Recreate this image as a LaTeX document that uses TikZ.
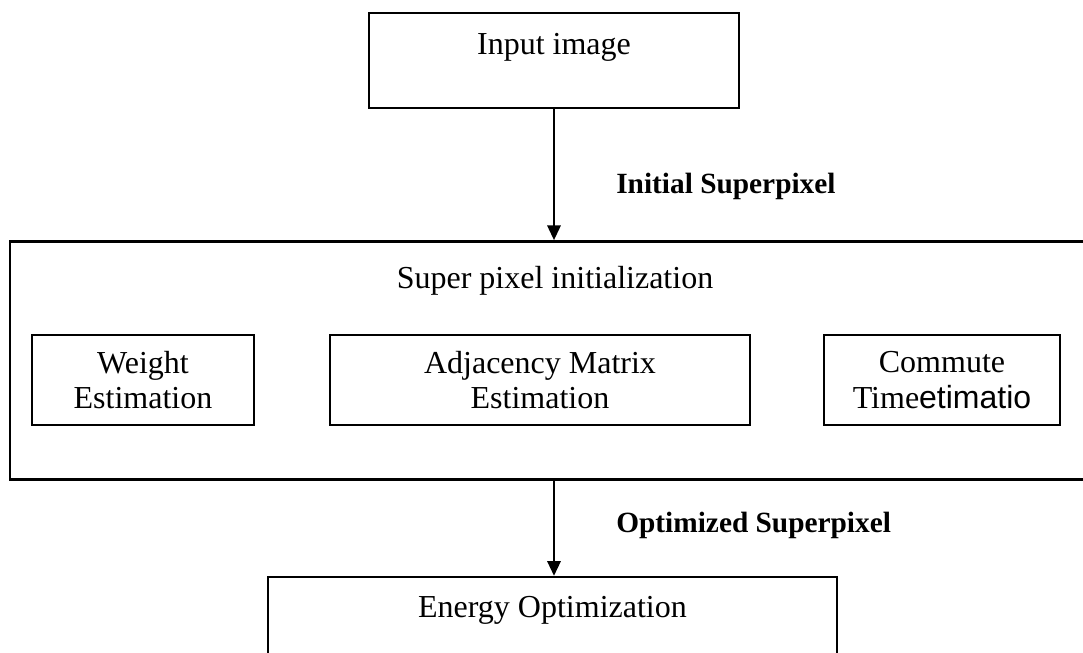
\documentclass[tikz,border=0pt]{standalone}
\usepackage{fontspec}
\setmainfont{Liberation Serif}
\setsansfont{Liberation Sans}
\usetikzlibrary{positioning,arrows.meta}

\begin{document}
\begin{tikzpicture}[x=0.375pt,y=-0.375pt,font=\fontsize{12}{13.2}\selectfont,
       box/.style={draw,line width=0.9pt,inner sep=0pt},
       arr/.style={-{Triangle[length=5.5pt,width=5pt]},line width=0.75pt},
       lbl/.style={font=\fontsize{11}{12}\selectfont\bfseries,anchor=base west,inner sep=0pt,xshift=23pt}]
      \clip (0,0) rectangle (1083,653);
      \node[box,minimum width=138.75pt,text height=15.75pt,text depth=19.9pt,anchor=base] (in) at (554,55) {Input image};
      \node[box,minimum width=408.75pt,text height=17.5pt,text depth=71.75pt,anchor=base] (init) at (555,288) {Super pixel initialization};
      \node[box,align=center,minimum width=83.25pt,minimum height=33.75pt] (wt) at (143,380) {Weight\\Estimation};
      \node[box,align=center,minimum width=157.5pt,minimum height=33.75pt] (adj) at (540,380) {Adjacency Matrix\\Estimation};
      \node[box,align=center,minimum width=88.5pt,minimum height=33.75pt] (ct) at (942,380) {Commute\\Time{\sffamily etimatio}};
      \node[box,minimum width=213.4pt,text height=15pt,text depth=40pt,anchor=base] (en) at (552.5,617) {Energy Optimization};
      \draw[arr] (in.south) -- (in.south |- init.north) node[lbl,pos=0.64] (l1) {Initial Superpixel};
      \draw[arr] (init.south -| in.south) -- (in.south |- en.north) node[lbl,pos=0.55] (l2) {Optimized Superpixel};
    \end{tikzpicture}
\end{document}
